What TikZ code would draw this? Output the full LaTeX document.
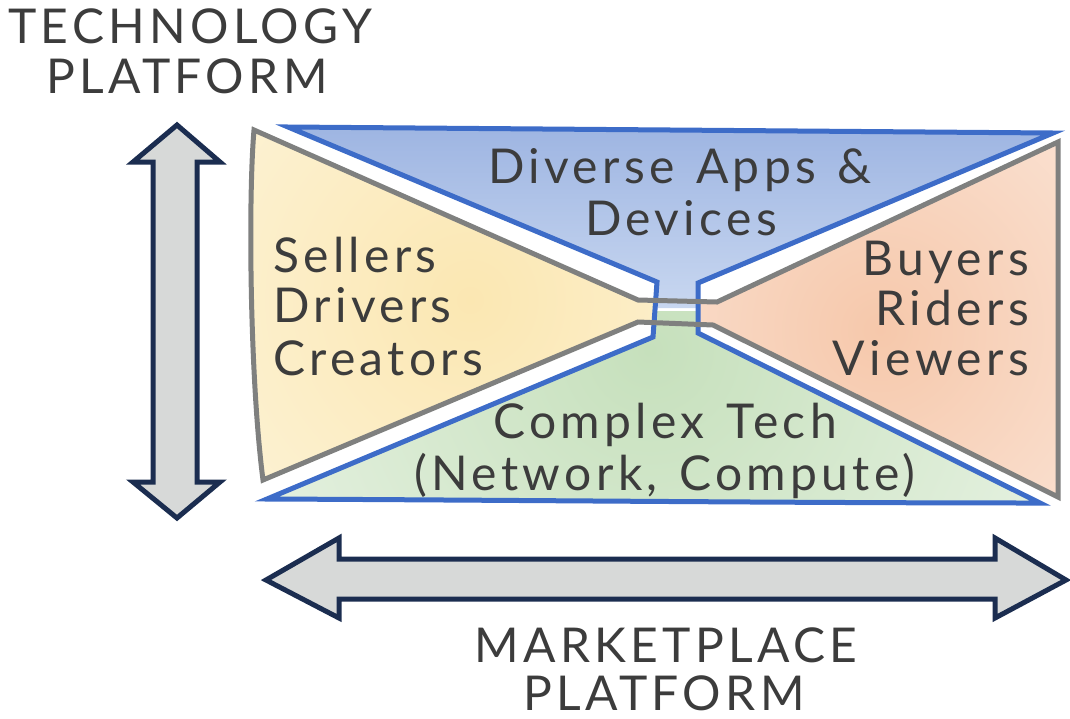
\documentclass[tikz,border=0pt]{standalone}
\usepackage{fontspec}
\newfontfamily\hand[LetterSpace=9,WordSpace=1.3]{Lato}
\definecolor{bl}{HTML}{3D6CC8}
\definecolor{gr}{HTML}{7F807F}
\definecolor{nv}{HTML}{1B2D50}
\definecolor{af}{HTML}{D7D9D8}
\definecolor{txt}{HTML}{3C3C3C}
\definecolor{btop}{HTML}{9EB5E2}
\definecolor{bbot}{HTML}{C8D7F0}
\definecolor{yin}{HTML}{FBE7B2}
\definecolor{yout}{HTML}{FEFAEC}
\definecolor{pin}{HTML}{F6C8AB}
\definecolor{pout}{HTML}{FDF1EA}
\definecolor{gin}{HTML}{C6E0BC}
\definecolor{gout}{HTML}{EEF6EB}
\tikzset{
  blueline/.style={draw=bl, line width=5pt, line join=miter},
  grayline/.style={draw=gr, line width=5pt, line join=miter},
  bigarrow/.style={draw=nv, fill=af, line width=5pt, line join=miter},
  lbl/.style={font=\hand\fontsize{48}{51}\selectfont, text=txt, inner sep=0pt}
}
\begin{document}
\begin{tikzpicture}[x=1pt,y=-1pt]
\useasboundingbox (0,0) rectangle (1070,718);
% fills
\shade[top color=btop, bottom color=bbot] (288,127) -- (1053,133) -- (698,283) -- (698,308) -- (657,308) -- (657,282) -- cycle;
\begin{scope}
  \clip (657,311) -- (698,311) -- (698,333) -- (1040,503) -- (267,499) -- (653,337) -- cycle;
  \shade[inner color=gin, outer color=gout] (650,350) circle (560);
\end{scope}
\begin{scope}
  \clip (254,130) -- (638,300) -- (657,300) -- (657,322) -- (638,322) -- (263,480) .. controls (250,380) and (248,200) .. (254,130) -- cycle;
  \shade[inner color=yin, outer color=yout] (470,300) circle (520);
\end{scope}
\begin{scope}
  \clip (1058,142) -- (1058,497) -- (713,325) -- (698,325) -- (698,302) -- (717,302) -- cycle;
  \shade[inner color=pin, outer color=pout] (880,330) circle (460);
\end{scope}
% outlines
\draw[blueline] (288,127) -- (1053,133) -- (698,283) -- (698,333) -- (1040,503)
  .. controls (800,503) and (500,500) .. (267,499) -- (653,337) -- (657,282) -- cycle;
\draw[grayline] (254,130) -- (638,300) -- (717,302) -- (1058,142) -- (1058,497)
  -- (713,325) -- (638,322) -- (263,480) .. controls (250,380) and (248,200) .. (254,130) -- cycle;
% arrows
\draw[bigarrow] (177,125) coordinate (vtip) -- (220,162) -- (197,162) -- (197,482) -- (220,482)
  -- (177,518) -- (133,482) -- (153,482) -- (153,162) -- (133,162) -- cycle;
\draw[bigarrow] (266,580) coordinate (htip) -- (339,538) -- (339,559) -- (995,559) -- (995,538)
  -- (1066,580) -- (995,618) -- (995,599) -- (339,599) -- (339,618) -- cycle;
% labels
\node[lbl, anchor=base] (tech1) at (190,43) {TECHNOLOGY};
\node[lbl, anchor=base] (tech2) at (187,93) {PLATFORM};
\node[lbl, anchor=base] (apps1) at (680,183) {Diverse Apps \&};
\node[lbl, anchor=base] (apps2) at (681,235) {Devices};
\node[lbl, anchor=base west] (sell1) at (273,272) {Sellers};
\node[lbl, anchor=base west] (sell2) at (273,322) {Drivers};
\node[lbl, anchor=base west] (sell3) at (273,375) {Creators};
\node[lbl, anchor=base east] (buy1) at (1029,275) {Buyers};
\node[lbl, anchor=base east] (buy2) at (1029,325) {Riders};
\node[lbl, anchor=base east] (buy3) at (1029,375) {Viewers};
\node[lbl, anchor=base] (tech3) at (665,438) {Complex Tech};
\node[lbl, anchor=base] (tech4) at (665,490) {(Network, Compute)};
\node[lbl, anchor=base] (mkt1) at (666,662) {MARKETPLACE};
\node[lbl, anchor=base] (mkt2) at (664,710) {PLATFORM};
\end{tikzpicture}
\end{document}
